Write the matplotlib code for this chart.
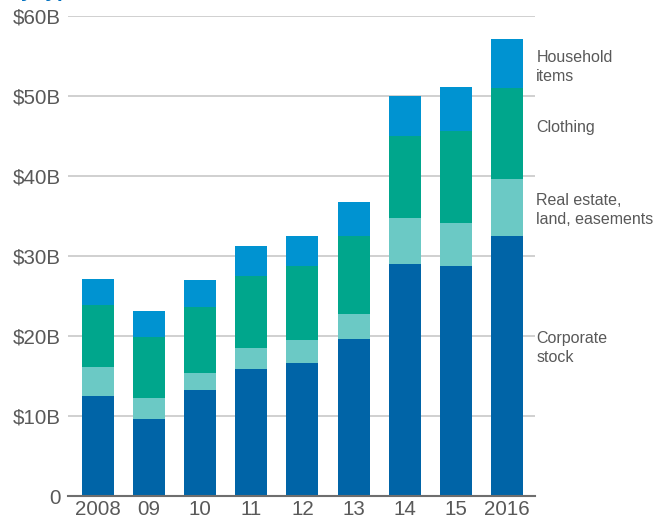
import numpy as np
import matplotlib.pyplot as plt

plt.rcParams['font.family'] = ['Liberation Sans', 'DejaVu Sans']

# data (billions of dollars)
years = ["2008", "09", "10", "11", "12", "13", "14", "15", "2016"]
corporate = [12.5, 9.6, 13.25, 15.9, 16.6, 19.6, 29.0, 28.75, 32.5]
real_estate = [3.6, 2.65, 2.15, 2.6, 2.9, 3.15, 5.75, 5.35, 7.1]
clothing = [7.8, 7.65, 8.2, 9.0, 9.25, 9.75, 10.25, 11.5, 11.4]
household = [3.2, 3.2, 3.4, 3.75, 3.75, 4.25, 5.0, 5.5, 6.1]

series = [corporate, real_estate, clothing, household]
colors = ["#0064a7", "#6bc9c5", "#00a68c", "#0093d1"]

labels = ["Household\nitems", "Clothing", "Real estate,\nland, easements", "Corporate\nstock"]
label_y = [53.6, 46.1, 35.8, 18.5]

text_gray = "#595959"

fig = plt.figure(figsize=(6.54, 5.19), dpi=100)
ax = fig.add_axes([0.104, 0.0443, 0.714, 0.9248])

x = np.arange(len(years))
bottom = np.zeros(len(years))
for vals, c in zip(series, colors):
    ax.bar(x, vals, width=0.626, bottom=bottom, color=c, zorder=3)
    bottom += np.array(vals)

ax.set_xlim(-0.587, 8.55)
ax.set_ylim(0, 60)
ax.set_yticks([0, 10, 20, 30, 40, 50, 60])
ax.set_yticklabels(["0", "$10B", "$20B", "$30B", "$40B", "$50B", "$60B"])
ax.set_xticks(x)
ax.set_xticklabels(years)
ax.tick_params(axis='both', length=0, labelsize=14.8, colors=text_gray)
ax.tick_params(axis='y', pad=5)
ax.tick_params(axis='x', pad=3)

ax.grid(axis='y', color="#c4c4c4", linewidth=1.1, zorder=0)
for s in ["top", "right", "left"]:
    ax.spines[s].set_visible(False)
ax.spines["bottom"].set_color("#6e6e6e")
ax.spines["bottom"].set_linewidth(1.5)
ax.spines["bottom"].set_zorder(4)

trans = ax.get_yaxis_transform()
for lab, yv in zip(labels, label_y):
    ax.text(1.003, yv, lab, transform=trans, ha='left', va='center',
            fontsize=11.5, color=text_gray, linespacing=1.35)

# cut-off title at the very top (only descenders show)
fig.text(0.012, 1.005, "by type", color="#0070c0", fontsize=15,
         fontweight='bold', ha='left', va='baseline')

fig.savefig("out.png", dpi=100)
